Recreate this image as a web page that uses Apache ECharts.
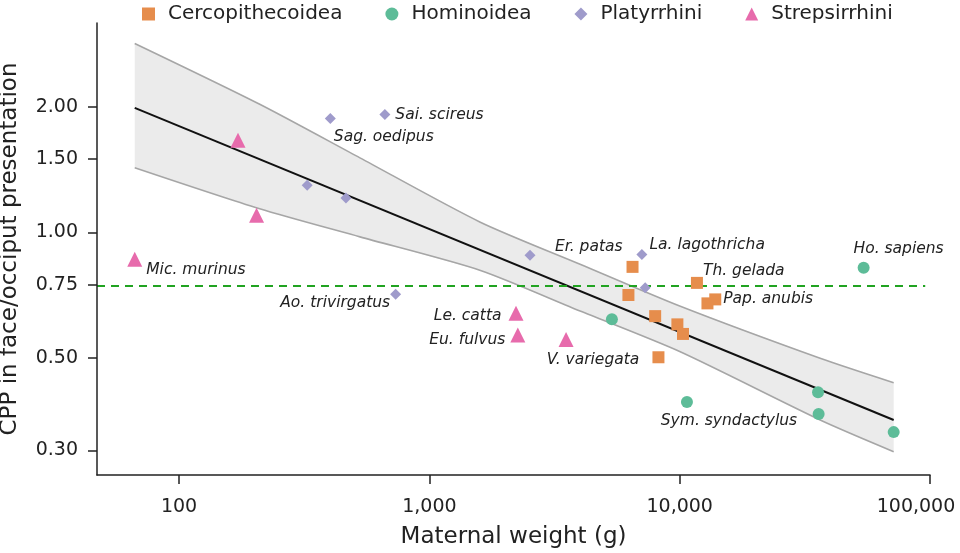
<!DOCTYPE html>
<html>
<head>
<meta charset="utf-8">
<script src="https://cdn.jsdelivr.net/npm/echarts@6/dist/echarts.min.js"></script>
<style>html,body{margin:0;padding:0;background:#fff}#chart{width:960px;height:553px}</style>
</head>
<body>
<div id="chart"></div>
<script>
// ---- data ----
const seriesNames = ['Cercopithecoidea', 'Hominoidea', 'Platyrrhini', 'Strepsirrhini'];
// [maternal weight (g), CPP, label]
const cercopithecoidea = [
  [6480, 0.827, 'Er. patas'],
  [11720, 0.757, 'Th. gelada'],
  [13870, 0.691, 'Pap. anubis'],
  [6240, 0.708, ''],
  [12910, 0.676, ''],
  [7980, 0.630, ''],
  [9790, 0.602, ''],
  [10310, 0.571, ''],
  [8225, 0.502, '']
];
const hominoidea = [
  [54300, 0.823, 'Ho. sapiens'],
  [10690, 0.392, 'Sym. syndactylus'],
  [5360, 0.619, ''],
  [35700, 0.414, ''],
  [35900, 0.367, ''],
  [71600, 0.332, '']
];
const platyrrhini = [
  [664, 1.918, 'Sai. scireus'],
  [402, 1.876, 'Sag. oedipus'],
  [325, 1.298, ''],
  [464, 1.21, ''],
  [2523, 0.882, ''],
  [7063, 0.886, 'La. lagothricha'],
  [7280, 0.737, ''],
  [733, 0.711, 'Ao. trivirgatus']
];
const strepsirrhini = [
  [66.5, 0.863, 'Mic. murinus'],
  [172, 1.664, ''],
  [204, 1.10, ''],
  [2218, 0.640, 'Le. catta'],
  [2256, 0.568, 'Eu. fulvus'],
  [3516, 0.554, 'V. variegata']
];
const fitLine = [[66.5, 1.99], [71600, 0.355]];
const bandMass = [66.5, 210, 528, 1590, 4000, 10000, 36400, 71600];
const bandUpper = [2.84, 2.03, 1.51, 1.06, 0.839, 0.666, 0.499, 0.436];
const bandLower = [1.43, 1.14, 0.976, 0.812, 0.648, 0.518, 0.355, 0.298];
const thresholdLine = [[47, 0.744], [95700, 0.744]];
const xTicks = [100, 1000, 10000, 100000];
const yTicks = [0.3, 0.5, 0.75, 1.0, 1.5, 2.0];

// ---- styling ----
const FONT = 'DejaVu Sans';
const colors = ['#E68D4C', '#5DBC98', '#9F9BCB', '#E76BAC'];
const symbols = ['rect', 'circle', 'diamond', 'triangle'];
const sizes = [12, 12, 11, 15];
const labelLayout = {
  'Er. patas': {position: 'left', offset: [1, -20]},
  'Th. gelada': {position: 'right', offset: [-5, -12]},
  'Pap. anubis': {position: 'right', offset: [-3, 0]},
  'Ho. sapiens': {position: 'top', offset: [35, 0]},
  'Sym. syndactylus': {position: 'bottom', offset: [42, 0]},
  'Sai. scireus': {position: 'right', offset: [0, 0]},
  'Sag. oedipus': {position: 'right', offset: [-7, 18]},
  'La. lagothricha': {position: 'right', offset: [-3, -9]},
  'Ao. trivirgatus': {position: 'left', offset: [5, 9]},
  'Mic. murinus': {position: 'right', offset: [-1, 11]},
  'Le. catta': {position: 'left', offset: [-2, 3]},
  'Eu. fulvus': {position: 'left', offset: [0, 5]},
  'V. variegata': {position: 'bottom', offset: [27, 0]}
};

function toItems(arr) {
  return arr.map(d => {
    const item = {value: [d[0], d[1]], name: d[2]};
    if (d[2]) {
      const l = labelLayout[d[2]];
      item.label = {show: true, formatter: d[2], position: l.position, offset: l.offset, distance: 5};
    }
    return item;
  });
}

const groups = [cercopithecoidea, hominoidea, platyrrhini, strepsirrhini];
const scatterSeries = groups.map((g, i) => ({
  name: seriesNames[i],
  type: 'scatter',
  symbol: symbols[i],
  symbolSize: sizes[i],
  itemStyle: {color: colors[i], opacity: 1},
  label: {show: false, color: '#222', fontStyle: 'italic', fontSize: 15.5, fontFamily: FONT},
  data: toItems(g),
  z: 10
}));

const chart = echarts.init(document.getElementById('chart'), null, {renderer: 'canvas'});
const option = {
  backgroundColor: '#fff',
  animation: false,
  textStyle: {fontFamily: FONT},
  legend: {
    top: -1,
    left: 137,
    itemGap: 43,
    itemWidth: 13,
    itemHeight: 13,
    textStyle: {fontSize: 20, color: '#222', fontFamily: FONT, padding: [0, 0, 0, 8]},
    data: seriesNames.map((n, i) => ({name: n, icon: symbols[i]}))
  },
  grid: {left: 97, right: 30, top: 23, bottom: 78, containLabel: false, outerBoundsMode: 'none'},
  xAxis: {
    type: 'log',
    min: 47,
    max: 100000,
    z: 20,
    name: 'Maternal weight (g)',
    nameLocation: 'middle',
    nameGap: 51,
    nameTextStyle: {fontSize: 23, color: '#222'},
    axisLine: {lineStyle: {color: '#222', width: 1.5}},
    axisTick: {show: true, length: 9, lineStyle: {color: '#222', width: 1.5}, customValues: xTicks},
    axisLabel: {fontSize: 19, color: '#222', margin: 23, customValues: xTicks,
      formatter: v => {
        const s = Math.round(v).toLocaleString('en-US');
        return v >= 99999 ? '{last|' + s + '}' : s;
      },
      rich: {last: {fontSize: 19, color: '#222', fontFamily: FONT, padding: [0, 28, 0, 0]}}},
    splitLine: {show: false},
    minorTick: {show: false}
  },
  yAxis: {
    type: 'log',
    min: 0.262,
    max: 3.18,
    z: 20,
    name: 'CPP in face/occiput presentation',
    nameLocation: 'middle',
    nameGap: 75,
    nameTextStyle: {fontSize: 23, color: '#222'},
    axisLine: {lineStyle: {color: '#222', width: 1.5}},
    axisTick: {show: true, length: 9, lineStyle: {color: '#222', width: 1.5}, customValues: yTicks},
    axisLabel: {fontSize: 19, color: '#222', margin: 19, customValues: yTicks,
      formatter: v => Number(v).toFixed(2)},
    splitLine: {show: false}
  },
  series: [
    {
      type: 'custom',
      name: 'band',
      silent: true,
      z: 1,
      data: [[bandMass[0], bandUpper[0]]],
      encode: {x: 0, y: 1},
      renderItem: (params, api) => {
        const pts = [];
        for (let i = 0; i < bandMass.length; i++) pts.push(api.coord([bandMass[i], bandUpper[i]]));
        for (let i = bandMass.length - 1; i >= 0; i--) pts.push(api.coord([bandMass[i], bandLower[i]]));
        return {type: 'polygon', shape: {points: pts}, style: {fill: '#ebebeb'}};
      }
    },
    {
      type: 'line', name: 'upper', silent: true, z: 2, symbol: 'none', smooth: 0.25,
      lineStyle: {color: '#a6a6a6', width: 1.6},
      data: bandMass.map((m, i) => [m, bandUpper[i]])
    },
    {
      type: 'line', name: 'lower', silent: true, z: 2, symbol: 'none', smooth: 0.25,
      lineStyle: {color: '#a6a6a6', width: 1.6},
      data: bandMass.map((m, i) => [m, bandLower[i]])
    },
    {
      type: 'line', name: 'fit', silent: true, z: 3, symbol: 'none',
      lineStyle: {color: '#111', width: 2},
      data: fitLine
    },
    {
      type: 'line', name: 'threshold', silent: true, z: 4, symbol: 'none',
      lineStyle: {color: '#21a321', width: 1.8, type: [8, 6]},
      data: thresholdLine
    },
    ...scatterSeries
  ]
};
chart.setOption(option);
</script>
</body>
</html>
